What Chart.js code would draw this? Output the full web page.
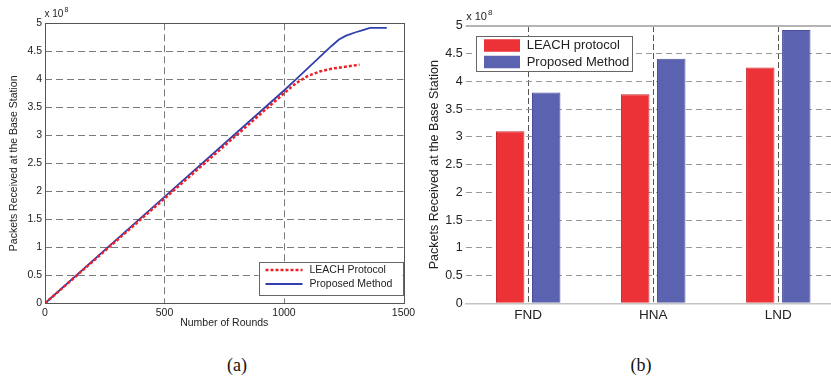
<!DOCTYPE html>
<html>
    <head>
        <meta charset="utf-8">
        <script src="https://cdn.jsdelivr.net/npm/chart.js@4.4.1/dist/chart.umd.min.js"></script>
        <title>Packets received</title>
        <style>
            body { margin:0; width:831px; height:378px; overflow:hidden; background:#fff; position:relative; }
            canvas { position:absolute; top:0; }
            .cap { position:absolute; top:355px; width:60px; text-align:center; font-family:"Liberation Serif", "Times New Roman", serif; font-size:18px; line-height:20px; color:#111; }
        </style>
    </head>
    <body>
        <canvas id="line_chart" width="420" height="340" style="left:0"></canvas>
        <canvas id="bar_chart" width="430" height="340" style="left:420px"></canvas>
        <div class="cap" style="left:207px">(a)</div>
        <div class="cap" style="left:611px">(b)</div>

        <script type="text/javascript">
            // values are in units of 10^8 packets
            var proposedRounds = [0, 500, 1000, 1050, 1100, 1150, 1200, 1230, 1260, 1300, 1330, 1360, 1430];
            var proposedPackets = [0, 1.9, 3.8, 4.0, 4.2, 4.4, 4.6, 4.71, 4.78, 4.84, 4.88, 4.92, 4.92];
            var leachRounds = [0, 500, 1000, 1050, 1100, 1150, 1200, 1250, 1316];
            var leachPackets = [0, 1.87, 3.75, 3.93, 4.06, 4.14, 4.19, 4.22, 4.26];

            var stages = ["FND", "HNA", "LND"];
            var leachStage = [3.1, 3.77, 4.25];
            var proposedStage = [3.8, 4.41, 4.93];

            var yTicks = [0, 0.5, 1, 1.5, 2, 2.5, 3, 3.5, 4, 4.5, 5];
            var xTicks = [0, 500, 1000, 1500];

            Chart.defaults.font.family = "'Liberation Sans', Arial, sans-serif";
            Chart.defaults.color = "#222";

            function pairs(xs, ys){
                return xs.map(function(x, i){ return {x: x, y: ys[i]}; });
            }
            function fmt(v){ return String(+v.toFixed(1)); }

            // framed legend, the "x 10^8" note and the plot box
            var boxLegend = {
                id: "boxLegend",
                afterDraw: function(chart, args, o){
                    var a = chart.chartArea, ctx = chart.ctx;
                    ctx.save();
                    if (o.frame){
                        ctx.strokeStyle = "#555"; ctx.lineWidth = 1;
                        ctx.strokeRect(Math.round(a.left)+0.5, Math.round(a.top)+0.5, Math.round(a.right-a.left), Math.round(a.bottom-a.top));
                    }
                    if (o.topLine){
                        ctx.strokeStyle = "#b4b4b4"; ctx.lineWidth = 2;
                        ctx.beginPath(); ctx.moveTo(a.left, a.top); ctx.lineTo(chart.width, a.top); ctx.stroke();
                    }
                    // exponent
                    ctx.fillStyle = "#222"; ctx.textBaseline = "alphabetic"; ctx.textAlign = "left";
                    ctx.font = o.expSize + "px 'Liberation Sans', Arial";
                    var ex = a.left + o.expDx, ey = a.top - o.expDy;
                    ctx.fillText("x 10", ex, ey);
                    var w = ctx.measureText("x 10").width;
                    ctx.font = Math.round(o.expSize*0.7) + "px 'Liberation Sans', Arial";
                    ctx.fillText("8", ex + w + 1, ey - o.expSize*0.5);

                    var x = o.right ? a.right - o.dx - o.width : a.left + o.dx;
                    var y = o.bottom ? a.bottom - o.dy - o.height : a.top + o.dy;
                    ctx.fillStyle = "#fff";
                    ctx.fillRect(x, y, o.width, o.height);
                    ctx.strokeStyle = "#666"; ctx.lineWidth = 1;
                    ctx.strokeRect(Math.round(x)+0.5, Math.round(y)+0.5, Math.round(o.width), Math.round(o.height));
                    ctx.font = o.fontSize + "px 'Liberation Sans', Arial";
                    ctx.textBaseline = "middle";
                    chart.data.datasets.forEach(function(ds, i){
                        var cy = y + o.rows[i];
                        if (o.swatch){
                            ctx.fillStyle = ds.backgroundColor;
                            ctx.fillRect(x + o.sampleX[0], cy - o.swatch/2, o.sampleX[1]-o.sampleX[0], o.swatch);
                        } else {
                            ctx.strokeStyle = ds.borderColor; ctx.lineWidth = ds.borderWidth;
                            ctx.setLineDash(ds.borderDash || []);
                            ctx.beginPath(); ctx.moveTo(x + o.sampleX[0], cy); ctx.lineTo(x + o.sampleX[1], cy); ctx.stroke();
                            ctx.setLineDash([]);
                        }
                        ctx.fillStyle = "#222";
                        ctx.fillText(ds.label, x + o.textX, cy);
                    });
                    ctx.restore();
                }
            };

            function gridColor(col){
                return function(c){
                    if (!c.tick) return col;
                    return (c.tick.value === 0 || c.tick.value === 5) ? "rgba(0,0,0,0)" : col;
                };
            }

            var line_chart = new Chart(document.getElementById("line_chart"), {
                type: "line",
                data: {
                    datasets: [
                        {
                            label: "LEACH Protocol",
                            data: pairs(leachRounds, leachPackets),
                            borderColor: "#ee2028",
                            borderWidth: 2.5,
                            borderDash: [3, 2],
                            pointRadius: 0,
                            tension: 0
                        },
                        {
                            label: "Proposed Method",
                            data: pairs(proposedRounds, proposedPackets),
                            borderColor: "#2f3fae",
                            borderWidth: 1.8,
                            pointRadius: 0,
                            tension: 0
                        }
                    ]
                },
                options: {
                    responsive: false,
                    animation: false,
                    layout: { padding: { top: 23.3, right: 16.5, left: 0, bottom: 0 } },
                    plugins: {
                        legend: { display: false },
                        tooltip: { enabled: false },
                        boxLegend: {
                            frame: true, right: true, bottom: true, dx: 1, dy: 8.3, width: 144, height: 33,
                            rows: [8, 22], sampleX: [7, 44], textX: 51, fontSize: 10.5,
                            expSize: 10, expDx: -0.5, expDy: 6
                        }
                    },
                    scales: {
                        x: {
                            type: "linear", min: 0, max: 1500,
                            afterBuildTicks: function(s){ s.ticks = xTicks.map(function(v){ return {value: v}; }); },
                            afterFit: function(s){ s.height = 36.7; },
                            ticks: { padding: 4, font: { size: 10.5 }, maxRotation: 0, callback: function(v){ return String(v); } },
                            grid: { color: function(c){ return (c.tick && (c.tick.value === 0 || c.tick.value === 1500)) ? "rgba(0,0,0,0)" : "#7a7a7a"; }, drawTicks: false },
                            border: { display: false, dash: [7, 4] },
                            title: { display: true, text: "Number of Rounds", font: { size: 10.5 }, padding: { top: 0, bottom: 11 } }
                        },
                        y: {
                            min: 0, max: 5,
                            afterBuildTicks: function(s){ s.ticks = yTicks.map(function(v){ return {value: v}; }); },
                            afterFit: function(s){ s.width = 45; },
                            ticks: { padding: 3, font: { size: 10.5 }, callback: fmt },
                            grid: { color: gridColor("#7a7a7a"), drawTicks: false },
                            border: { display: false, dash: [7, 4] },
                            title: { display: true, text: "Packets Received at the Base Station", font: { size: 10.5 }, padding: { top: 8, bottom: 0 } }
                        }
                    }
                },
                plugins: [boxLegend]
            });

            var bar_chart = new Chart(document.getElementById("bar_chart"), {
                type: "bar",
                data: {
                    labels: stages,
                    datasets: [
                        {
                            label: "LEACH protocol",
                            data: leachStage,
                            backgroundColor: "#ec3237",
                            borderColor: "#c82a30",
                            borderWidth: 1,
                            categoryPercentage: 0.576,
                            barPercentage: 0.79
                        },
                        {
                            label: "Proposed Method",
                            data: proposedStage,
                            backgroundColor: "#5b62b0",
                            borderColor: "#474d98",
                            borderWidth: 1,
                            categoryPercentage: 0.576,
                            barPercentage: 0.79
                        }
                    ]
                },
                options: {
                    responsive: false,
                    animation: false,
                    layout: { padding: { top: 26, right: 9.2, left: 0, bottom: 0 } },
                    plugins: {
                        legend: { display: false },
                        tooltip: { enabled: false },
                        boxLegend: {
                            topLine: true, dx: 10.3, dy: 10, width: 156, height: 35,
                            rows: [9.5, 26], sampleX: [8, 44], swatch: 12.5, textX: 50.7, fontSize: 13,
                            expSize: 11, expDx: 0.5, expDy: 6
                        }
                    },
                    scales: {
                        x: {
                            afterFit: function(s){ s.height = 36.7; },
                            ticks: { padding: 4, font: { size: 13.5 } },
                            grid: { offset: false, color: "#555", drawTicks: false },
                            border: { display: true, color: "#c4c4c4", width: 1.5, dash: [6, 3] }
                        },
                        y: {
                            min: 0, max: 5,
                            afterBuildTicks: function(s){ s.ticks = yTicks.map(function(v){ return {value: v}; }); },
                            afterFit: function(s){ s.width = 45.7; },
                            ticks: { padding: 3, font: { size: 12.5 }, callback: fmt },
                            grid: { color: gridColor("#999"), drawTicks: false },
                            border: { display: false, dash: [6, 4] },
                            title: { display: true, text: "Packets Received at the Base Station", font: { size: 12.5 }, padding: { top: 7.5, bottom: 0 } }
                        }
                    }
                },
                plugins: [boxLegend]
            });
        </script>
    </body>
</html>
